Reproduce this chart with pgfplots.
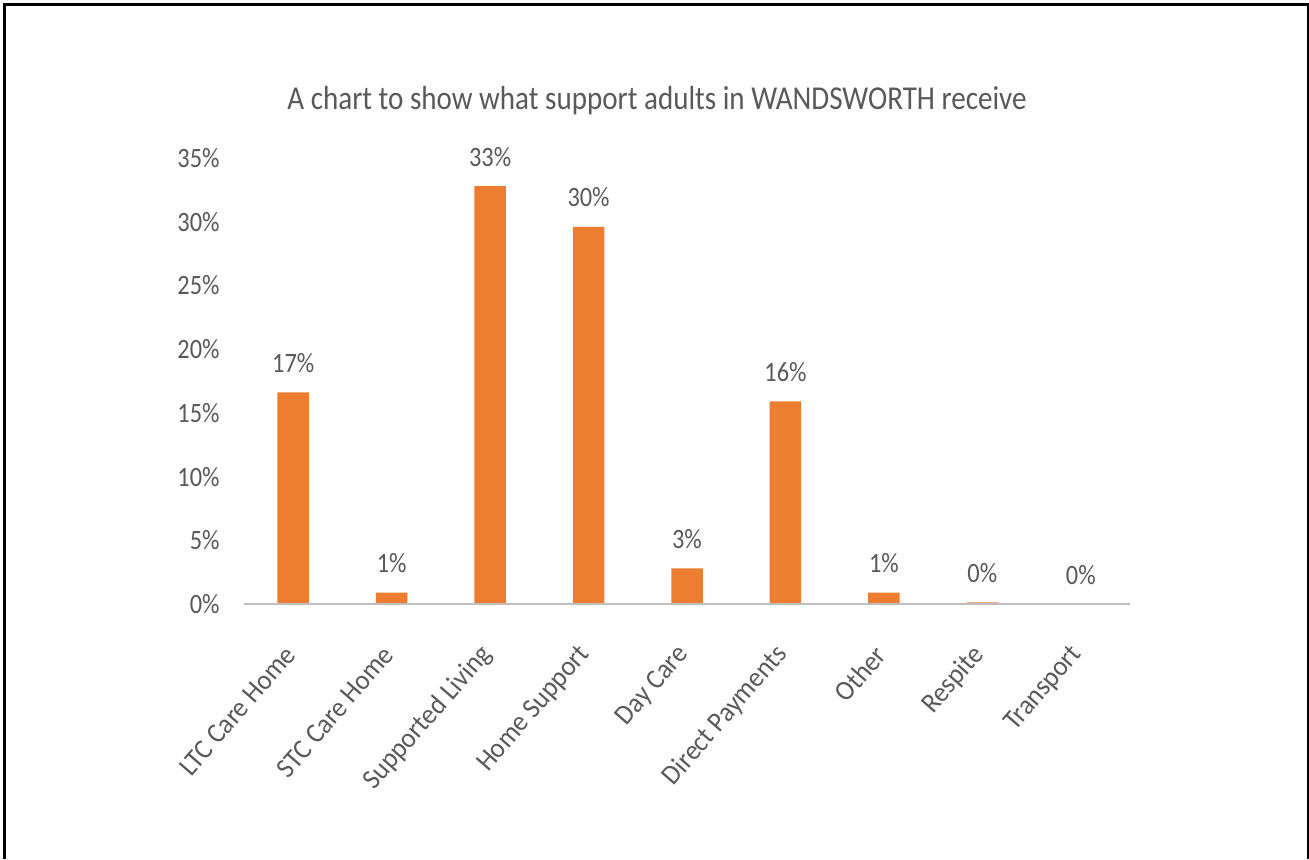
\documentclass[border=0pt]{standalone}
\usepackage{pgfplots}
\pgfplotsset{compat=1.18}
\usepackage{pgfplotstable}
\usepackage{fontspec}
\setmainfont{Carlito}[FakeStretch=0.87]
\newfontfamily\xlabfont{Carlito}[FakeStretch=0.94]
\definecolor{barorange}{HTML}{ED7D31}
\definecolor{txtgray}{HTML}{595959}
\definecolor{axgray}{HTML}{BFBFBF}
\pgfplotstableread{
x y label
0 16.6 17
1 0.9 1
2 32.8 33
3 29.6 30
4 2.8 3
5 15.9 16
6 0.9 1
7 0.13 0
8 0.0 0
}\datatable
\begin{document}
\begin{tikzpicture}
\useasboundingbox (0,0) rectangle (654.5pt,429.5pt);
\draw[line width=1.5pt] (2pt,0) -- (2pt,427pt) -- (654pt,427pt) -- (654pt,0);
\node[font=\fontsize{16.7}{19}\selectfont, text=txtgray, anchor=center] at (328.5pt,379pt) {A chart to show what support adults in WANDSWORTH receive};
\begin{axis}[
  at={(122pt,127.5pt)}, anchor=south west,
  scale only axis, width=443pt, height=223pt,
  xmin=-0.5, xmax=8.5, ymin=0, ymax=35,
  axis line style={draw=none},
  major tick length=0pt,
  ytick={0,5,...,35},
  yticklabel={\pgfmathparse{int(\tick)}\pgfmathresult\%},
  yticklabel style={font=\fontsize{14}{16}\selectfont, text=txtgray, anchor=east, inner sep=0pt, xshift=-12pt},
  xtick={0,...,8},
  xticklabels={LTC Care Home, STC Care Home, Supported Living, Home Support, Day Care, Direct Payments, Other, Respite, Transport},
  xticklabel style={font=\xlabfont\fontsize{14}{16}\selectfont, text=txtgray, inner sep=0pt, xshift=-1.5pt, yshift=-23pt, rotate=49, anchor=east},
  ybar, bar width=15.75pt,
  point meta=explicit symbolic,
  nodes near coords={\pgfplotspointmeta\%},
  every node near coord/.append style={font=\fontsize{14}{16}\selectfont, text=txtgray, anchor=base, inner sep=0pt, yshift=10pt},
  clip=false,
]
\addplot[fill=barorange, draw=none] table[x=x, y=y, meta=label] {\datatable};
\draw[axgray, line width=1pt] (axis cs:-0.5,0) -- (axis cs:8.5,0);
\end{axis}
\end{tikzpicture}
\end{document}
